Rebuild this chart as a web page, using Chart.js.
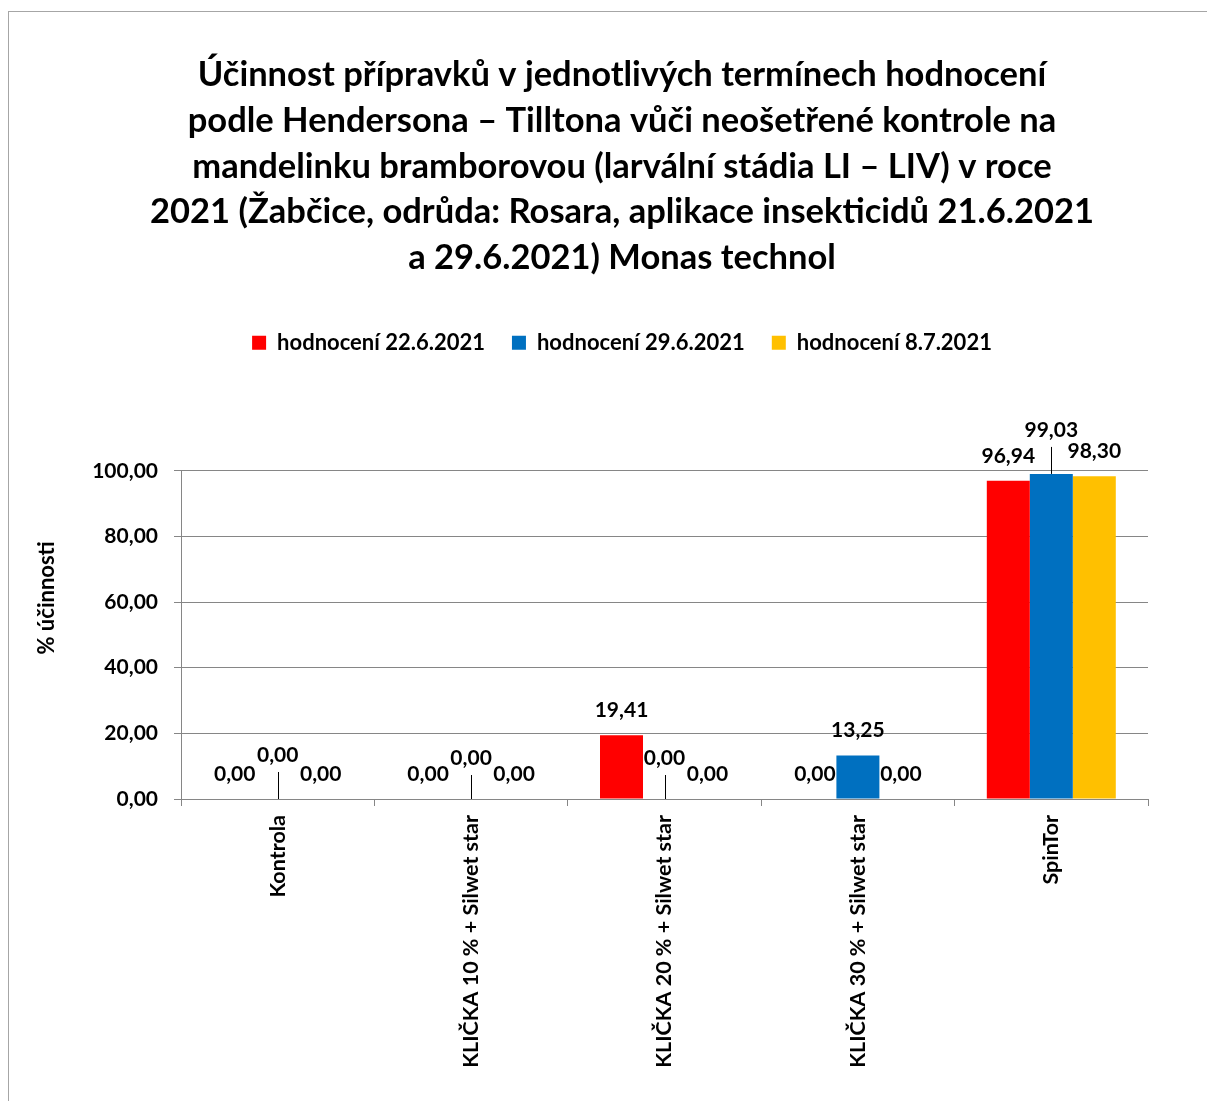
<!DOCTYPE html>
<html>
<head>
<meta charset="utf-8">
<script src="https://cdn.jsdelivr.net/npm/chart.js@4.4.1/dist/chart.umd.min.js"></script>
<style>
  html, body { margin: 0; padding: 0; background: #fff; overflow: hidden; width: 1207px; height: 1101px; }
  #frame { position: absolute; left: 8px; top: 11px; width: 1260px; height: 1160px; border: 1px solid #a6a6a6; box-sizing: border-box; }
  #wrap { position: absolute; left: 0; top: 0; width: 1224px; height: 1101px; }
</style>
</head>
<body>
<div id="frame"></div>
<div id="wrap"><canvas id="c" width="1224" height="1101"></canvas></div>
<script>
const categories = [
  'Kontrola',
  'KLIČKA 10 % + Silwet star',
  'KLIČKA 20 % + Silwet star',
  'KLIČKA 30 % + Silwet star',
  'SpinTor'
];
const seriesNames = ['hodnocení 22.6.2021', 'hodnocení 29.6.2021', 'hodnocení 8.7.2021'];
const values22_6 = [0.00, 0.00, 19.41, 0.00, 96.94];
const values29_6 = [0.00, 0.00, 0.00, 13.25, 99.03];
const values8_7  = [0.00, 0.00, 0.00, 0.00, 98.30];
const yTicks = [0, 20, 40, 60, 80, 100];
const titleLines = [
  'Účinnost přípravků v jednotlivých termínech hodnocení',
  'podle Hendersona – Tilltona vůči neošetřené kontrole na',
  'mandelinku bramborovou (larvální stádia LI – LIV) v roce',
  '2021 (Žabčice, odrůda: Rosara, aplikace insekticidů 21.6.2021',
  'a 29.6.2021) Monas technol'
];
const yAxisTitle = '% účinnosti';
const colors = ['#FF0000', '#0070C0', '#FFC000'];

const FONT = 'Lato';
const fmt = v => v.toFixed(2).replace('.', ',');

// labels lifted with a leader line: [datasetIndex, categoryIndex, lift px]
const leaderLabels = [[1, 0, 19], [1, 1, 16], [1, 2, 16], [1, 4, 19]];

const dataLabelPlugin = {
  id: 'dataLabels',
  afterDatasetsDraw(chart) {
    const ctx = chart.ctx;
    ctx.save();
    ctx.font = 'bold 21px ' + FONT;
    ctx.fillStyle = '#000';
    ctx.textAlign = 'center';
    ctx.textBaseline = 'middle';
    chart.data.datasets.forEach((ds, di) => {
      const meta = chart.getDatasetMeta(di);
      meta.data.forEach((bar, i) => {
        const lead = leaderLabels.find(l => l[0] === di && l[1] === i);
        const lift = lead ? lead[2] : 0;
        const ty = bar.y - 25 - lift;
        ctx.fillText(fmt(ds.data[i]), bar.x, ty);
        if (lead) {
          ctx.beginPath();
          ctx.strokeStyle = '#000';
          ctx.lineWidth = 1;
          ctx.moveTo(Math.round(bar.x) + 0.5, ty + 17);
          ctx.lineTo(Math.round(bar.x) + 0.5, bar.y);
          ctx.stroke();
        }
      });
    });
    ctx.restore();
  }
};

// y-axis title drawn beside the axis, a bit above its middle as in the original
const yTitlePlugin = {
  id: 'yTitle',
  afterDraw(chart) {
    const ctx = chart.ctx;
    const y = chart.scales.y;
    ctx.save();
    ctx.font = 'bold 22px ' + FONT;
    ctx.fillStyle = '#000';
    ctx.textAlign = 'center';
    ctx.textBaseline = 'middle';
    ctx.translate(y.left + 27, (y.top + y.bottom) / 2 - 37);
    ctx.rotate(-Math.PI / 2);
    ctx.fillText(yAxisTitle, 0, 0);
    ctx.restore();
  }
};

const legendSpacer = {
  id: 'legendSpacer',
  beforeLayout(chart) {
    const lg = chart.legend;
    if (lg && !lg._patched) {
      const orig = lg.fit;
      lg.fit = function () { orig.call(this); this.height += 107; };
      lg._patched = true;
    }
  }
};

new Chart(document.getElementById('c'), {
  type: 'bar',
  data: {
    labels: categories,
    datasets: [
      { label: seriesNames[0], data: values22_6, backgroundColor: colors[0], borderWidth: 0 },
      { label: seriesNames[1], data: values29_6, backgroundColor: colors[1], borderWidth: 0 },
      { label: seriesNames[2], data: values8_7,  backgroundColor: colors[2], borderWidth: 0 }
    ]
  },
  options: {
    responsive: false,
    animation: false,
    layout: { padding: { left: 20, right: 0, top: 0, bottom: 0 } },
    datasets: { bar: { barPercentage: 1, categoryPercentage: 0.667 } },
    plugins: {
      title: {
        display: true,
        text: titleLines,
        color: '#000',
        font: { family: FONT, size: 34.5, weight: 'bold', lineHeight: 45.75 / 34.5 },
        padding: { top: 52, bottom: 24 }
      },
      legend: {
        display: true,
        position: 'top',
        labels: {
          color: '#000',
          font: { family: FONT, size: 22, weight: 'bold' },
          boxWidth: 14,
          boxHeight: 14,
          padding: 27
        }
      },
      tooltip: { enabled: false }
    },
    scales: {
      x: {
        offset: true,
        grid: { display: true, drawOnChartArea: false, drawTicks: true, tickLength: 7, color: '#868686', offset: true },
        border: { display: true, color: '#868686' },
        ticks: {
          color: '#000',
          font: { family: FONT, size: 21.5, weight: 'bold' },
          minRotation: 90, maxRotation: 90, padding: 9, autoSkip: false
        },
        afterFit(s) { s.height = 302; }
      },
      y: {
        min: 0, max: 100,
        afterBuildTicks(s) { s.ticks = yTicks.map(v => ({ value: v })); },
        grid: { color: '#868686', tickLength: 7 },
        border: { display: true, color: '#868686' },
        ticks: {
          color: '#000',
          font: { family: FONT, size: 21, weight: 'bold' },
          padding: 16,
          callback: v => fmt(v)
        },
        title: { display: false },
        afterFit(s) { s.width = 161; }
      },
      yR: {
        position: 'right',
        display: true,
        grid: { display: false, drawTicks: false },
        border: { display: false },
        ticks: { display: false },
        afterFit(s) { s.width = 76; }
      }
    }
  },
  plugins: [dataLabelPlugin, yTitlePlugin, legendSpacer]
});
</script>
</body>
</html>
